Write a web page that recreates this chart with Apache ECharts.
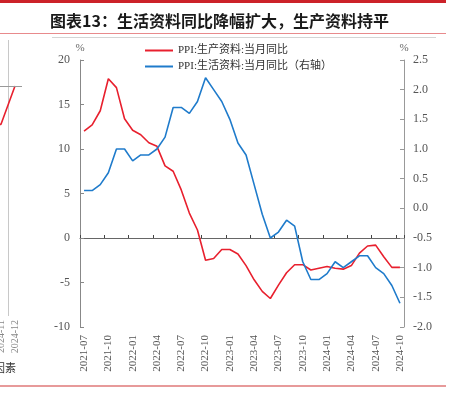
<!DOCTYPE html>
<html><head><meta charset="utf-8">
<script src="https://cdn.jsdelivr.net/npm/echarts@6/dist/echarts.min.js"></script>
<style>html,body{margin:0;padding:0;background:#fff;overflow:hidden}
#c{position:absolute;left:0;top:0;width:451px;height:394px}
#f{position:absolute;left:-20px;top:0;width:42px;height:394px;pointer-events:none}</style>
</head><body><div id="c"></div><div id="f"></div>
<script>
const months = ['2021-07','2021-08','2021-09','2021-10','2021-11','2021-12',
'2022-01','2022-02','2022-03','2022-04','2022-05','2022-06','2022-07','2022-08','2022-09','2022-10','2022-11','2022-12',
'2023-01','2023-02','2023-03','2023-04','2023-05','2023-06','2023-07','2023-08','2023-09','2023-10','2023-11','2023-12',
'2024-01','2024-02','2024-03','2024-04','2024-05','2024-06','2024-07','2024-08','2024-09','2024-10'];
const producerGoods = [12.0,12.7,14.3,17.9,16.9,13.4,
12.1,11.6,10.7,10.3,8.1,7.5,5.4,2.8,0.9,-2.5,-2.3,-1.3,
-1.3,-1.8,-3.1,-4.7,-6.0,-6.8,-5.3,-3.9,-3.0,-3.0,-3.6,-3.4,
-3.2,-3.4,-3.5,-3.1,-1.7,-0.9,-0.8,-2.1,-3.3,-3.3];
const consumerGoods = [0.3,0.3,0.4,0.6,1.0,1.0,
0.8,0.9,0.9,1.0,1.2,1.7,1.7,1.6,1.8,2.2,2.0,1.8,
1.5,1.1,0.9,0.4,-0.1,-0.5,-0.4,-0.2,-0.3,-0.9,-1.2,-1.2,
-1.1,-0.9,-1.0,-0.9,-0.8,-0.8,-1.0,-1.1,-1.3,-1.6];
const leftTicks = {min:-10, max:20, interval:5};
const rightTicks = {min:-2.0, max:2.5, interval:0.5};
const seriesNames = ['PPI:生产资料:当月同比','PPI:生活资料:当月同比（右轴）'];
// fragment of the neighbouring chart at the left edge
const fragMonths = ['2024-10','2024-11','2024-12'];
const fragValues = [-0.5,-0.5,0.0];

const serif = '"Liberation Serif","Times New Roman","Noto Sans CJK SC",serif';
const RED = '#e8202e', BLUE = '#1f7bcb';
const chart = echarts.init(document.getElementById('c'));
chart.setOption({
  animation:false,
  title:{text:'图表13：生活资料同比降幅扩大，生产资料持平',left:45,top:8,
    textStyle:{fontFamily:'"Noto Sans CJK SC"',fontSize:16,fontWeight:'bold',color:'#1a1a1a'}},
  legend:{orient:'vertical',left:140,top:40,icon:'rect',itemWidth:28,itemHeight:2,itemGap:5,
    data:seriesNames,
    textStyle:{fontFamily:serif,fontSize:11,color:'#333'}},
  graphic:[
    {type:'rect',shape:{x:0,y:0,width:446,height:3},style:{fill:'#cc2229'}},
    {type:'rect',shape:{x:0,y:33,width:446,height:1},style:{fill:'#e88a8c'}},
    {type:'rect',shape:{x:52,y:37,width:384,height:1},style:{fill:'#d4d4d4'}},
    {type:'rect',shape:{x:0,y:385,width:446,height:2},style:{fill:'#e79a9a'}},
    {type:'text',x:-6,y:362,style:{text:'因素',font:'11px "Noto Sans CJK SC"',fill:'#333'}}
  ],
  grid:{left:80,right:47,top:60,bottom:67},
  xAxis:[
    {type:'category',data:months,boundaryGap:true,position:'bottom',
      axisLine:{onZero:true,onZeroAxisIndex:0,lineStyle:{color:'#666',width:1}},
      axisTick:{show:true,inside:true,interval:2,length:3,lineStyle:{color:'#444'}},
      axisLabel:{show:false},splitLine:{show:false}},
    {type:'category',data:months,boundaryGap:true,position:'bottom',
      axisLine:{show:false,onZero:false},axisTick:{show:false},
      axisLabel:{interval:2,rotate:90,margin:8,fontFamily:serif,fontSize:11,color:'#555'},
      splitLine:{show:false}}
  ],
  yAxis:[
    {type:'value',position:'left',min:leftTicks.min,max:leftTicks.max,interval:leftTicks.interval,
      name:'%',nameLocation:'end',nameGap:6,nameTextStyle:{fontFamily:serif,fontSize:11,color:'#666',align:'center'},
      axisLine:{show:true,onZero:false,lineStyle:{color:'#888'}},
      axisTick:{show:true,inside:true,length:4,lineStyle:{color:'#888'}},
      axisLabel:{margin:10,fontFamily:serif,fontSize:12,color:'#555'},
      splitLine:{show:false}},
    {type:'value',position:'right',min:rightTicks.min,max:rightTicks.max,interval:rightTicks.interval,
      name:'%',nameLocation:'end',nameGap:6,nameTextStyle:{fontFamily:serif,fontSize:11,color:'#666',align:'center'},
      axisLine:{show:true,onZero:false,lineStyle:{color:'#999'}},
      axisTick:{show:true,inside:true,length:4,lineStyle:{color:'#999'}},
      axisLabel:{margin:9,fontFamily:serif,fontSize:12,color:'#555',formatter:v=>v.toFixed(1)},
      splitLine:{show:false}}
  ],
  series:[
    {name:seriesNames[0],type:'line',xAxisIndex:0,yAxisIndex:0,data:producerGoods,
      symbol:'none',lineStyle:{color:RED,width:1.6},itemStyle:{color:RED}},
    {name:seriesNames[1],type:'line',xAxisIndex:0,yAxisIndex:1,data:consumerGoods,
      symbol:'none',lineStyle:{color:BLUE,width:1.6},itemStyle:{color:BLUE}}
  ]
});

const frag = echarts.init(document.getElementById('f'));
frag.setOption({
  animation:false,
  grid:{left:0,right:0,top:40,bottom:78},
  xAxis:{type:'category',data:fragMonths,boundaryGap:true,
    axisLine:{show:false,onZero:false},axisTick:{show:false},
    axisLabel:{interval:0,rotate:90,margin:4,fontFamily:serif,fontSize:10,color:'#888'},
    splitLine:{show:true,interval:0,lineStyle:{color:'#c8c8c8',width:1}}},
  yAxis:{type:'value',min:-3,max:0.6,show:false,splitLine:{show:false}},
  series:[{type:'line',data:fragValues,symbol:'none',lineStyle:{color:RED,width:1.6},
    markLine:{silent:true,symbol:'none',label:{show:false},
      lineStyle:{color:'#999',width:1,type:'solid'},data:[{yAxis:0}]}}]
});
</script></body></html>
